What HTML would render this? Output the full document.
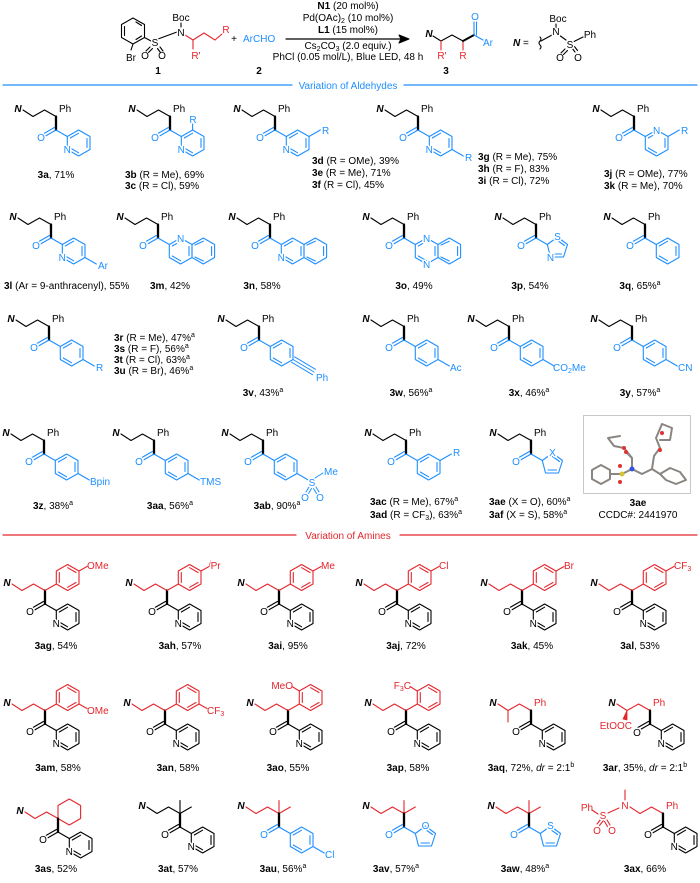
<!DOCTYPE html>
<html><head><meta charset="utf-8"><style>
html,body{margin:0;padding:0;background:#fff}
svg{display:block}
text{font-family:"Liberation Sans",Arial,sans-serif;font-size:10px}
.k{fill:#000}.b{fill:#1e8fff}.r{fill:#e3262c}
.a{paint-order:stroke;stroke:#fff;stroke-width:3px;stroke-linejoin:round}
.n{font-weight:bold;font-style:italic}
.lb{font-size:10px;fill:#000;text-anchor:middle}
.bd{font-weight:bold}
</style></head><body>
<svg width="700" height="883" viewBox="0 0 700 883" xmlns="http://www.w3.org/2000/svg" fill="none" stroke-linecap="round" stroke-linejoin="round">
<defs>
<path id="ch" d="M5,2 L15,8.5 L26.5,2 L38,8.5" stroke-width="1.1"/>
<path id="cb" d="M38,8.5 L38,22" stroke-width="2.3" stroke="#000"/>
<path id="co" d="M38,22 L26.7,28.5 M36.6,19.4 L25.3,25.9 M38,22 L49.3,28.5" stroke-width="1.1"/>
<path id="hx" d="M49.3,28.5 L49.3,41.5 L60.6,48 L72,41.5 L72,28.5 L60.6,22 Z M52.3,40 L60.6,44.8 M69,39.5 L69,30.5 M60.6,25.2 L52.3,30" stroke-width="1.1"/>
<path id="hx2" d="M72,28.5 L72,41.5 L83.3,48 L94.6,41.5 L94.6,28.5 L83.3,22 Z M75,41 L83.3,45 M91.6,39.5 L91.6,30.5 M83.3,25.2 L75,29" stroke-width="1.1"/>
<path id="p5" d="M49.3,28.5 L52.5,41 L65.5,41 L69.5,28.5 L59.5,21 Z M55,38 L63.5,38 M66.5,29.5 L59.5,24.5" stroke-width="1.1"/>
<path id="ar" d="M38,8.5 L49.3,2 M49.3,2 L49.3,-11 L60.6,-17.5 L72,-11 L72,2 L60.6,8.5 Z M52.3,-9.5 L52.3,0.5 M60.6,-14.3 L69,-9.5 M69,0.5 L60.6,5.3" stroke-width="1.1"/>
<path id="pa" d="M72,41.5 L83.3,48" stroke-width="1.1"/>
<path id="mt" d="M72,28.5 L83.3,22" stroke-width="1.1"/>
</defs>

<!-- ===== HEADER ===== -->
<g stroke="#000" stroke-width="1.1">
<path d="M133,18 L144.5,24.5 L144.5,37.5 L133,44 L121.5,37.5 L121.5,24.5 Z M136,22 L141.5,25.5 M141.5,36 L136,39.5 M124.5,35.5 L124.5,26.5"/>
<path d="M133,44 L131,50"/>
<path d="M144.5,37.5 L151,41"/>
<path d="M158,39 L177,32"/>
<path d="M150,47 L146,51 M152.5,48.5 L148.5,52.5 M160,47 L163,51 M157.5,48.5 L160.5,52.5"/>
<path d="M181,27 L181,23"/>
</g>
<g stroke="#e3262c" stroke-width="1.1"><path d="M185,35 L193,40 L204,33 L215,40 L222,34 M193,40 L193,49"/></g>
<text x="131" y="61" class="k a" text-anchor="middle">Br</text>
<text x="155" y="46" class="k a" text-anchor="middle">S</text>
<text x="145" y="59" class="k" text-anchor="middle">O</text>
<text x="162" y="59" class="k" text-anchor="middle">O</text>
<text x="181" y="36" class="k a" text-anchor="middle">N</text>
<text x="181" y="21" class="k" text-anchor="middle">Boc</text>
<text x="226" y="33" class="r" text-anchor="middle">R</text>
<text x="196" y="59" class="r" text-anchor="middle">R'</text>
<text x="158" y="74" class="k bd" text-anchor="middle">1</text>
<text x="234" y="42" class="k" text-anchor="middle">+</text>
<text x="243" y="42" class="b">ArCHO</text>
<text x="259" y="74" class="k bd" text-anchor="middle">2</text>
<path d="M286,39 L402,39" stroke="#000" stroke-width="1.2"/>
<path d="M409,39 L399,35 L401,39 L399,43 Z" fill="#000" stroke="#000" stroke-width="1"/>
<text x="348" y="9" class="k" text-anchor="middle"><tspan class="bd">N1</tspan> (20 mol%)</text>
<text x="348" y="21" class="k" text-anchor="middle">Pd(OAc)<tspan font-size="7" dy="2">2</tspan><tspan dy="-2"> (10 mol%)</tspan></text>
<text x="348" y="33" class="k" text-anchor="middle"><tspan class="bd">L1</tspan> (15 mol%)</text>
<text x="348" y="49" class="k" text-anchor="middle">Cs<tspan font-size="7" dy="2">2</tspan><tspan dy="-2">CO</tspan><tspan font-size="7" dy="2">3</tspan><tspan dy="-2"> (2.0 equiv.)</tspan></text>
<text x="348" y="60" class="k" text-anchor="middle">PhCl (0.05 mol/L), Blue LED, 48 h</text>
<g stroke-width="1.1">
<path d="M433,36 L441,41 L452,35 L463,41" stroke="#000"/>
<path d="M441,41 L441,50 M463,41 L463,50" stroke="#e3262c"/>
<path d="M463,41 L474,35" stroke="#000" stroke-width="2"/>
<path d="M474,35 L474,22 M476.5,35 L476.5,22 M474,35 L483,40" stroke="#1e8fff"/>
</g>
<text x="429" y="37" class="k n" text-anchor="middle">N</text>
<text x="475" y="20" class="b" text-anchor="middle">O</text>
<text x="483" y="46" class="b">Ar</text>
<text x="442" y="59" class="r" text-anchor="middle">R'</text>
<text x="463" y="59" class="r" text-anchor="middle">R</text>
<text x="446" y="74" class="k bd" text-anchor="middle">3</text>
<text x="513" y="46" class="k"><tspan class="n">N</tspan> =</text>
<g stroke="#000" stroke-width="1.1">
<path d="M540,37 q2,2 0,4 q-2,2 0,4 q2,2 0,4"/>
<path d="M541,41 L552,35 M559,35 L566,40 M556,28 L556,24"/>
<path d="M565,49 L561,53 M567.5,50.5 L563.5,54.5 M572,48 L575,52 M574.5,46.5 L577.5,50.5 M573,42 L583,37"/>
</g>
<text x="556" y="35" class="k a" text-anchor="middle">N</text>
<text x="558" y="22" class="k" text-anchor="middle">Boc</text>
<text x="570" y="48" class="k a" text-anchor="middle">S</text>
<text x="590" y="38" class="k" text-anchor="middle">Ph</text>
<text x="560" y="61" class="k" text-anchor="middle">O</text>
<text x="578" y="61" class="k" text-anchor="middle">O</text>

<path d="M3,85 L292,85 M404,85 L697,85" stroke="#1e8fff" stroke-width="1.2"/>
<text x="348" y="89" class="b" text-anchor="middle">Variation of Aldehydes</text>

<!-- ROW 1 -->
<g transform="translate(18,108)">
<use href="#ch" stroke="#000"/><use href="#cb"/><use href="#co" stroke="#1e8fff"/><use href="#hx" stroke="#1e8fff"/>
<text x="0" y="4" class="k n" text-anchor="middle">N</text><text x="41" y="4" class="k">Ph</text>
<text x="23" y="33" class="b a" text-anchor="middle">O</text><text x="49.3" y="45" class="b a" text-anchor="middle">N</text>
</g>
<g transform="translate(132,108)">
<use href="#ch" stroke="#000"/><use href="#cb"/><use href="#co" stroke="#1e8fff"/><use href="#hx" stroke="#1e8fff"/>
<path d="M60.6,22 L60.6,16" stroke="#1e8fff" stroke-width="1.1"/>
<text x="0" y="4" class="k n" text-anchor="middle">N</text><text x="41" y="4" class="k">Ph</text>
<text x="61" y="15" class="b" text-anchor="middle">R</text>
<text x="23" y="33" class="b a" text-anchor="middle">O</text><text x="49.3" y="45" class="b a" text-anchor="middle">N</text>
</g>
<g transform="translate(237,108)">
<use href="#ch" stroke="#000"/><use href="#cb"/><use href="#co" stroke="#1e8fff"/><use href="#hx" stroke="#1e8fff"/><use href="#mt" stroke="#1e8fff"/>
<text x="0" y="4" class="k n" text-anchor="middle">N</text><text x="41" y="4" class="k">Ph</text>
<text x="85" y="26" class="b">R</text>
<text x="23" y="33" class="b a" text-anchor="middle">O</text><text x="49.3" y="45" class="b a" text-anchor="middle">N</text>
</g>
<g transform="translate(380,108)">
<use href="#ch" stroke="#000"/><use href="#cb"/><use href="#co" stroke="#1e8fff"/><use href="#hx" stroke="#1e8fff"/><use href="#pa" stroke="#1e8fff"/>
<text x="0" y="4" class="k n" text-anchor="middle">N</text><text x="41" y="4" class="k">Ph</text>
<text x="85" y="53" class="b">R</text>
<text x="23" y="33" class="b a" text-anchor="middle">O</text><text x="49.3" y="45" class="b a" text-anchor="middle">N</text>
</g>
<g transform="translate(596,108)">
<use href="#ch" stroke="#000"/><use href="#cb"/><use href="#co" stroke="#1e8fff"/><use href="#hx" stroke="#1e8fff"/><use href="#mt" stroke="#1e8fff"/>
<text x="0" y="4" class="k n" text-anchor="middle">N</text><text x="41" y="4" class="k">Ph</text>
<text x="85" y="26" class="b">R</text>
<text x="23" y="33" class="b a" text-anchor="middle">O</text><text x="60.6" y="26" class="b a" text-anchor="middle">N</text>
</g>
<text x="56" y="178" class="lb"><tspan class="bd">3a</tspan>, 71%</text>
<text x="125" y="178" class="k"><tspan class="bd">3b</tspan> (R = Me), 69%</text>
<text x="125" y="189" class="k"><tspan class="bd">3c</tspan> (R = Cl), 59%</text>
<text x="312" y="164" class="k"><tspan class="bd">3d</tspan> (R = OMe), 39%</text>
<text x="312" y="176" class="k"><tspan class="bd">3e</tspan> (R = Me), 71%</text>
<text x="312" y="188" class="k"><tspan class="bd">3f</tspan> (R = Cl), 45%</text>
<text x="478" y="160" class="k"><tspan class="bd">3g</tspan> (R = Me), 75%</text>
<text x="478" y="172" class="k"><tspan class="bd">3h</tspan> (R = F), 83%</text>
<text x="478" y="184" class="k"><tspan class="bd">3i</tspan> (R = Cl), 72%</text>
<text x="604" y="177" class="k"><tspan class="bd">3j</tspan> (R = OMe), 77%</text>
<text x="604" y="189" class="k"><tspan class="bd">3k</tspan> (R = Me), 70%</text>

<!-- ROW 2 -->
<g transform="translate(13,216)">
<use href="#ch" stroke="#000"/><use href="#cb"/><use href="#co" stroke="#1e8fff"/><use href="#hx" stroke="#1e8fff"/><use href="#pa" stroke="#1e8fff"/>
<text x="0" y="4" class="k n" text-anchor="middle">N</text><text x="41" y="4" class="k">Ph</text>
<text x="85" y="53" class="b">Ar</text>
<text x="23" y="33" class="b a" text-anchor="middle">O</text><text x="49.3" y="45" class="b a" text-anchor="middle">N</text>
</g>
<g transform="translate(120,216)">
<use href="#ch" stroke="#000"/><use href="#cb"/><use href="#co" stroke="#1e8fff"/><use href="#hx" stroke="#1e8fff"/><use href="#hx2" stroke="#1e8fff"/>
<text x="0" y="4" class="k n" text-anchor="middle">N</text><text x="41" y="4" class="k">Ph</text>
<text x="23" y="33" class="b a" text-anchor="middle">O</text><text x="60.6" y="26" class="b a" text-anchor="middle">N</text>
</g>
<g transform="translate(232,216)">
<use href="#ch" stroke="#000"/><use href="#cb"/><use href="#co" stroke="#1e8fff"/><use href="#hx" stroke="#1e8fff"/><use href="#hx2" stroke="#1e8fff"/>
<text x="0" y="4" class="k n" text-anchor="middle">N</text><text x="41" y="4" class="k">Ph</text>
<text x="23" y="33" class="b a" text-anchor="middle">O</text><text x="49.3" y="45" class="b a" text-anchor="middle">N</text>
</g>
<g transform="translate(366,216)">
<use href="#ch" stroke="#000"/><use href="#cb"/><use href="#co" stroke="#1e8fff"/><use href="#hx" stroke="#1e8fff"/><use href="#hx2" stroke="#1e8fff"/>
<text x="0" y="4" class="k n" text-anchor="middle">N</text><text x="41" y="4" class="k">Ph</text>
<text x="23" y="33" class="b a" text-anchor="middle">O</text><text x="60.6" y="26" class="b a" text-anchor="middle">N</text><text x="60.6" y="52" class="b a" text-anchor="middle">N</text>
</g>
<g transform="translate(498,216)">
<use href="#ch" stroke="#000"/><use href="#cb"/><use href="#co" stroke="#1e8fff"/><use href="#p5" stroke="#1e8fff"/>
<text x="0" y="4" class="k n" text-anchor="middle">N</text><text x="41" y="4" class="k">Ph</text>
<text x="23" y="33" class="b a" text-anchor="middle">O</text><text x="52.5" y="45" class="b a" text-anchor="middle">N</text><text x="59.5" y="24" class="b a" text-anchor="middle">S</text>
</g>
<g transform="translate(607,216)">
<use href="#ch" stroke="#000"/><use href="#cb"/><use href="#co" stroke="#1e8fff"/><use href="#hx" stroke="#1e8fff"/>
<text x="0" y="4" class="k n" text-anchor="middle">N</text><text x="41" y="4" class="k">Ph</text>
<text x="23" y="33" class="b a" text-anchor="middle">O</text>
</g>
<text x="4" y="289" class="k"><tspan class="bd">3l</tspan> (Ar = 9-anthracenyl), 55%</text>
<text x="170" y="289" class="lb"><tspan class="bd">3m</tspan>, 42%</text>
<text x="262" y="289" class="lb"><tspan class="bd">3n</tspan>, 58%</text>
<text x="414" y="289" class="lb"><tspan class="bd">3o</tspan>, 49%</text>
<text x="530" y="289" class="lb"><tspan class="bd">3p</tspan>, 54%</text>
<text x="640" y="289" class="lb"><tspan class="bd">3q</tspan>, 65%<tspan font-size="7" dy="-4">a</tspan></text>

<!-- ROW 3 -->
<g transform="translate(11,318)">
<use href="#ch" stroke="#000"/><use href="#cb"/><use href="#co" stroke="#1e8fff"/><use href="#hx" stroke="#1e8fff"/><use href="#pa" stroke="#1e8fff"/>
<text x="0" y="4" class="k n" text-anchor="middle">N</text><text x="41" y="4" class="k">Ph</text>
<text x="85" y="53" class="b">R</text><text x="23" y="33" class="b a" text-anchor="middle">O</text>
</g>
<text x="114" y="341" class="k"><tspan class="bd">3r</tspan> (R = Me), 47%<tspan font-size="7" dy="-4">a</tspan></text>
<text x="114" y="352" class="k"><tspan class="bd">3s</tspan> (R = F), 56%<tspan font-size="7" dy="-4">a</tspan></text>
<text x="114" y="363" class="k"><tspan class="bd">3t</tspan> (R = Cl), 63%<tspan font-size="7" dy="-4">a</tspan></text>
<text x="114" y="374" class="k"><tspan class="bd">3u</tspan> (R = Br), 46%<tspan font-size="7" dy="-4">a</tspan></text>
<g transform="translate(221,318)">
<use href="#ch" stroke="#000"/><use href="#cb"/><use href="#co" stroke="#1e8fff"/><use href="#hx" stroke="#1e8fff"/>
<path d="M72,41.5 L93,54 M73.5,38.8 L94.5,51.3 M70.5,44.2 L91.5,56.7" stroke="#1e8fff" stroke-width="1"/>
<text x="0" y="4" class="k n" text-anchor="middle">N</text><text x="41" y="4" class="k">Ph</text>
<text x="95" y="63" class="b">Ph</text><text x="23" y="33" class="b a" text-anchor="middle">O</text>
</g>
<g transform="translate(366,318)">
<use href="#ch" stroke="#000"/><use href="#cb"/><use href="#co" stroke="#1e8fff"/><use href="#hx" stroke="#1e8fff"/><use href="#pa" stroke="#1e8fff"/>
<text x="0" y="4" class="k n" text-anchor="middle">N</text><text x="41" y="4" class="k">Ph</text>
<text x="84" y="53" class="b">Ac</text><text x="23" y="33" class="b a" text-anchor="middle">O</text>
</g>
<g transform="translate(471,318)">
<use href="#ch" stroke="#000"/><use href="#cb"/><use href="#co" stroke="#1e8fff"/><use href="#hx" stroke="#1e8fff"/><use href="#pa" stroke="#1e8fff"/>
<text x="0" y="4" class="k n" text-anchor="middle">N</text><text x="41" y="4" class="k">Ph</text>
<text x="82" y="53" class="b">CO<tspan font-size="7" dy="2">2</tspan><tspan dy="-2">Me</tspan></text><text x="23" y="33" class="b a" text-anchor="middle">O</text>
</g>
<g transform="translate(594,318)">
<use href="#ch" stroke="#000"/><use href="#cb"/><use href="#co" stroke="#1e8fff"/><use href="#hx" stroke="#1e8fff"/><use href="#pa" stroke="#1e8fff"/>
<text x="0" y="4" class="k n" text-anchor="middle">N</text><text x="41" y="4" class="k">Ph</text>
<text x="84" y="53" class="b">CN</text><text x="23" y="33" class="b a" text-anchor="middle">O</text>
</g>
<text x="263" y="396" class="lb"><tspan class="bd">3v</tspan>, 43%<tspan font-size="7" dy="-4">a</tspan></text>
<text x="411" y="396" class="lb"><tspan class="bd">3w</tspan>, 56%<tspan font-size="7" dy="-4">a</tspan></text>
<text x="529" y="396" class="lb"><tspan class="bd">3x</tspan>, 46%<tspan font-size="7" dy="-4">a</tspan></text>
<text x="640" y="396" class="lb"><tspan class="bd">3y</tspan>, 57%<tspan font-size="7" dy="-4">a</tspan></text>

<!-- ROW 4 -->
<g transform="translate(6,432)">
<use href="#ch" stroke="#000"/><use href="#cb"/><use href="#co" stroke="#1e8fff"/><use href="#hx" stroke="#1e8fff"/><use href="#pa" stroke="#1e8fff"/>
<text x="0" y="4" class="k n" text-anchor="middle">N</text><text x="41" y="4" class="k">Ph</text>
<text x="84" y="53" class="b">Bpin</text><text x="23" y="33" class="b a" text-anchor="middle">O</text>
</g>
<g transform="translate(116,432)">
<use href="#ch" stroke="#000"/><use href="#cb"/><use href="#co" stroke="#1e8fff"/><use href="#hx" stroke="#1e8fff"/><use href="#pa" stroke="#1e8fff"/>
<text x="0" y="4" class="k n" text-anchor="middle">N</text><text x="41" y="4" class="k">Ph</text>
<text x="84" y="53" class="b">TMS</text><text x="23" y="33" class="b a" text-anchor="middle">O</text>
</g>
<g transform="translate(225,432)">
<use href="#ch" stroke="#000"/><use href="#cb"/><use href="#co" stroke="#1e8fff"/><use href="#hx" stroke="#1e8fff"/><use href="#pa" stroke="#1e8fff"/>
<path d="M90,46 L98,41 M84,55 L81,60 M86.5,56.5 L83.5,61.5 M91,55 L94,60 M88.5,56.5 L91.5,61.5" stroke="#1e8fff" stroke-width="1"/>
<text x="0" y="4" class="k n" text-anchor="middle">N</text><text x="41" y="4" class="k">Ph</text>
<text x="87" y="54" class="b a" text-anchor="middle">S</text><text x="99" y="43" class="b">Me</text>
<text x="80" y="69" class="b" text-anchor="middle">O</text><text x="95" y="69" class="b" text-anchor="middle">O</text>
<text x="23" y="33" class="b a" text-anchor="middle">O</text>
</g>
<g transform="translate(368,432)">
<use href="#ch" stroke="#000"/><use href="#cb"/><use href="#co" stroke="#1e8fff"/><use href="#hx" stroke="#1e8fff"/><use href="#mt" stroke="#1e8fff"/>
<text x="0" y="4" class="k n" text-anchor="middle">N</text><text x="41" y="4" class="k">Ph</text>
<text x="85" y="24" class="b">R</text><text x="23" y="33" class="b a" text-anchor="middle">O</text>
</g>
<g transform="translate(493,432)">
<use href="#ch" stroke="#000"/><use href="#cb"/><use href="#co" stroke="#1e8fff"/><use href="#p5" stroke="#1e8fff"/>
<text x="0" y="4" class="k n" text-anchor="middle">N</text><text x="41" y="4" class="k">Ph</text>
<text x="23" y="33" class="b a" text-anchor="middle">O</text><text x="59.5" y="24" class="b a" text-anchor="middle">X</text>
</g>
<text x="53" y="509" class="lb"><tspan class="bd">3z</tspan>, 38%<tspan font-size="7" dy="-4">a</tspan></text>
<text x="170" y="509" class="lb"><tspan class="bd">3aa</tspan>, 56%<tspan font-size="7" dy="-4">a</tspan></text>
<text x="277" y="509" class="lb"><tspan class="bd">3ab</tspan>, 90%<tspan font-size="7" dy="-4">a</tspan></text>
<text x="370" y="505" class="k"><tspan class="bd">3ac</tspan> (R = Me), 67%<tspan font-size="7" dy="-4">a</tspan></text>
<text x="370" y="518" class="k"><tspan class="bd">3ad</tspan> (R = CF<tspan font-size="7" dy="2">3</tspan><tspan dy="-2">), 63%</tspan><tspan font-size="7" dy="-4">a</tspan></text>
<text x="489" y="505" class="k"><tspan class="bd">3ae</tspan> (X = O), 60%<tspan font-size="7" dy="-4">a</tspan></text>
<text x="489" y="518" class="k"><tspan class="bd">3af</tspan> (X = S), 58%<tspan font-size="7" dy="-4">a</tspan></text>
<rect x="583.5" y="415.5" width="107" height="78" fill="#fff" stroke="#c8c8c8"/>
<g stroke="#8a8580" stroke-width="2">
<path d="M592,470 L601,465 L610,470 L610,479 L601,484 L592,479 Z"/>
<path d="M610,474 L622,474 L632,469 L642,474 L652,469 L660,474 L670,468 L680,472 L686,480 L676,484 L666,480 L660,474"/>
<path d="M632,469 L632,458 L626,452 M632,458 L624,448 L614,446 L608,438 L620,436"/>
<path d="M652,469 L654,456 L660,448 L656,438 L662,424 L672,428 L670,440 L660,440"/>
</g>
<g>
<circle cx="622" cy="474" r="2.5" fill="#d9c13a"/><circle cx="632" cy="469" r="2.5" fill="#3355dd"/>
<circle cx="626" cy="452" r="2" fill="#d33"/><circle cx="624" cy="448" r="2" fill="#d33"/>
<circle cx="620" cy="482" r="2" fill="#d33"/><circle cx="620" cy="466" r="2" fill="#d33"/>
<circle cx="660" cy="450" r="2" fill="#d33"/><circle cx="662" cy="433" r="2" fill="#d33"/>
</g>
<text x="638" y="506" class="lb bd">3ae</text>
<text x="638" y="518" class="lb">CCDC#: 2441970</text>

<path d="M3,535 L296,535 M400,535 L697,535" stroke="#e3262c" stroke-width="1.2"/>
<text x="348" y="539" class="r" text-anchor="middle">Variation of Amines</text>

<!-- ROW 5 -->
<g transform="translate(7,582)">
<use href="#ch" stroke="#e3262c"/><use href="#cb"/><use href="#co" stroke="#000"/><use href="#hx" stroke="#000"/><use href="#ar" stroke="#e3262c"/>
<path d="M72,-11 L80,-15.5" stroke="#e3262c" stroke-width="1.1"/>
<text x="0" y="4" class="k n" text-anchor="middle">N</text><text x="80" y="-13" class="r">OMe</text>
<text x="23" y="33" class="k a" text-anchor="middle">O</text><text x="49.3" y="45" class="k a" text-anchor="middle">N</text>
</g>
<g transform="translate(129,582)">
<use href="#ch" stroke="#e3262c"/><use href="#cb"/><use href="#co" stroke="#000"/><use href="#hx" stroke="#000"/><use href="#ar" stroke="#e3262c"/>
<path d="M72,-11 L80,-15.5" stroke="#e3262c" stroke-width="1.1"/>
<text x="0" y="4" class="k n" text-anchor="middle">N</text><text x="80" y="-13" class="r"><tspan font-size="7" dy="-3" font-style="italic">i</tspan><tspan dy="3">Pr</tspan></text>
<text x="23" y="33" class="k a" text-anchor="middle">O</text><text x="49.3" y="45" class="k a" text-anchor="middle">N</text>
</g>
<g transform="translate(241,582)">
<use href="#ch" stroke="#e3262c"/><use href="#cb"/><use href="#co" stroke="#000"/><use href="#hx" stroke="#000"/><use href="#ar" stroke="#e3262c"/>
<path d="M72,-11 L80,-15.5" stroke="#e3262c" stroke-width="1.1"/>
<text x="0" y="4" class="k n" text-anchor="middle">N</text><text x="80" y="-13" class="r">Me</text>
<text x="23" y="33" class="k a" text-anchor="middle">O</text><text x="49.3" y="45" class="k a" text-anchor="middle">N</text>
</g>
<g transform="translate(359,582)">
<use href="#ch" stroke="#e3262c"/><use href="#cb"/><use href="#co" stroke="#000"/><use href="#hx" stroke="#000"/><use href="#ar" stroke="#e3262c"/>
<path d="M72,-11 L80,-15.5" stroke="#e3262c" stroke-width="1.1"/>
<text x="0" y="4" class="k n" text-anchor="middle">N</text><text x="80" y="-13" class="r">Cl</text>
<text x="23" y="33" class="k a" text-anchor="middle">O</text><text x="49.3" y="45" class="k a" text-anchor="middle">N</text>
</g>
<g transform="translate(484,582)">
<use href="#ch" stroke="#e3262c"/><use href="#cb"/><use href="#co" stroke="#000"/><use href="#hx" stroke="#000"/><use href="#ar" stroke="#e3262c"/>
<path d="M72,-11 L80,-15.5" stroke="#e3262c" stroke-width="1.1"/>
<text x="0" y="4" class="k n" text-anchor="middle">N</text><text x="80" y="-13" class="r">Br</text>
<text x="23" y="33" class="k a" text-anchor="middle">O</text><text x="49.3" y="45" class="k a" text-anchor="middle">N</text>
</g>
<g transform="translate(594,582)">
<use href="#ch" stroke="#e3262c"/><use href="#cb"/><use href="#co" stroke="#000"/><use href="#hx" stroke="#000"/><use href="#ar" stroke="#e3262c"/>
<path d="M72,-11 L80,-15.5" stroke="#e3262c" stroke-width="1.1"/>
<text x="0" y="4" class="k n" text-anchor="middle">N</text><text x="80" y="-13" class="r">CF<tspan font-size="7" dy="2">3</tspan></text>
<text x="23" y="33" class="k a" text-anchor="middle">O</text><text x="49.3" y="45" class="k a" text-anchor="middle">N</text>
</g>
<text x="56" y="649" class="lb"><tspan class="bd">3ag</tspan>, 54%</text>
<text x="180" y="649" class="lb"><tspan class="bd">3ah</tspan>, 57%</text>
<text x="288" y="649" class="lb"><tspan class="bd">3ai</tspan>, 95%</text>
<text x="406" y="649" class="lb"><tspan class="bd">3aj</tspan>, 72%</text>
<text x="532" y="649" class="lb"><tspan class="bd">3ak</tspan>, 45%</text>
<text x="640" y="649" class="lb"><tspan class="bd">3al</tspan>, 53%</text>

<!-- ROW 6 -->
<g transform="translate(7,702)">
<use href="#ch" stroke="#e3262c"/><use href="#cb"/><use href="#co" stroke="#000"/><use href="#hx" stroke="#000"/><use href="#ar" stroke="#e3262c"/>
<path d="M72,2 L80,6.5" stroke="#e3262c" stroke-width="1.1"/>
<text x="0" y="4" class="k n" text-anchor="middle">N</text><text x="80" y="12" class="r">OMe</text>
<text x="23" y="33" class="k a" text-anchor="middle">O</text><text x="49.3" y="45" class="k a" text-anchor="middle">N</text>
</g>
<g transform="translate(127,702)">
<use href="#ch" stroke="#e3262c"/><use href="#cb"/><use href="#co" stroke="#000"/><use href="#hx" stroke="#000"/><use href="#ar" stroke="#e3262c"/>
<path d="M72,2 L80,6.5" stroke="#e3262c" stroke-width="1.1"/>
<text x="0" y="4" class="k n" text-anchor="middle">N</text><text x="80" y="12" class="r">CF<tspan font-size="7" dy="2">3</tspan></text>
<text x="23" y="33" class="k a" text-anchor="middle">O</text><text x="49.3" y="45" class="k a" text-anchor="middle">N</text>
</g>
<g transform="translate(250,702)">
<use href="#ch" stroke="#e3262c"/><use href="#cb"/><use href="#co" stroke="#000"/><use href="#hx" stroke="#000"/><use href="#ar" stroke="#e3262c"/>
<path d="M49.3,-11 L42,-15.5" stroke="#e3262c" stroke-width="1.1"/>
<text x="0" y="4" class="k n" text-anchor="middle">N</text><text x="43" y="-13" class="r" text-anchor="end">MeO</text>
<text x="23" y="33" class="k a" text-anchor="middle">O</text><text x="49.3" y="45" class="k a" text-anchor="middle">N</text>
</g>
<g transform="translate(368,702)">
<use href="#ch" stroke="#e3262c"/><use href="#cb"/><use href="#co" stroke="#000"/><use href="#hx" stroke="#000"/><use href="#ar" stroke="#e3262c"/>
<path d="M49.3,-11 L42,-15.5" stroke="#e3262c" stroke-width="1.1"/>
<text x="0" y="4" class="k n" text-anchor="middle">N</text><text x="43" y="-13" class="r" text-anchor="end">F<tspan font-size="7" dy="2">3</tspan><tspan dy="-2">C</tspan></text>
<text x="23" y="33" class="k a" text-anchor="middle">O</text><text x="49.3" y="45" class="k a" text-anchor="middle">N</text>
</g>
<g transform="translate(493,702)">
<path d="M5,2 L15,8.5 L26.5,2 L38,8.5 M15,8.5 L15,20" stroke="#e3262c" stroke-width="1.1"/>
<use href="#cb"/><use href="#co" stroke="#000"/><use href="#hx" stroke="#000"/>
<text x="0" y="4" class="k n" text-anchor="middle">N</text><text x="41" y="4" class="r">Ph</text>
<text x="23" y="33" class="k a" text-anchor="middle">O</text><text x="49.3" y="45" class="k a" text-anchor="middle">N</text>
</g>
<g transform="translate(612,702)">
<path d="M5,2 L15,8.5 L26.5,2 L38,8.5" stroke="#e3262c" stroke-width="1.1"/>
<path d="M15,8.5 L11,17 L15,18 Z" fill="#e3262c" stroke="#e3262c" stroke-width="0.8"/>
<use href="#cb"/><use href="#co" stroke="#000"/><use href="#hx" stroke="#000"/>
<text x="0" y="4" class="k n" text-anchor="middle">N</text><text x="41" y="4" class="r">Ph</text>
<text x="20" y="27" class="r a" text-anchor="end">EtOOC</text>
<text x="25" y="34" class="k a" text-anchor="middle">O</text><text x="49.3" y="45" class="k a" text-anchor="middle">N</text>
</g>
<text x="58" y="771" class="lb"><tspan class="bd">3am</tspan>, 58%</text>
<text x="178" y="771" class="lb"><tspan class="bd">3an</tspan>, 58%</text>
<text x="288" y="771" class="lb"><tspan class="bd">3ao</tspan>, 55%</text>
<text x="408" y="771" class="lb"><tspan class="bd">3ap</tspan>, 58%</text>
<text x="531" y="771" class="lb"><tspan class="bd">3aq</tspan>, 72%, <tspan font-style="italic">dr</tspan> = 2:1<tspan font-size="7" dy="-4">b</tspan></text>
<text x="645" y="771" class="lb"><tspan class="bd">3ar</tspan>, 35%, <tspan font-style="italic">dr</tspan> = 2:1<tspan font-size="7" dy="-4">b</tspan></text>

<!-- ROW 7 -->
<g transform="translate(20,810)">
<path d="M5,2 L15,8.5 L26.5,2 L38,8.5 L38,-4.5 L49.3,-11 L60.6,-4.5 L60.6,8.5 L49.3,15 L38,8.5" stroke="#e3262c" stroke-width="1.1"/>
<use href="#cb"/><use href="#co" stroke="#000"/><use href="#hx" stroke="#000"/>
<text x="0" y="4" class="k n" text-anchor="middle">N</text>
<text x="23" y="33" class="k a" text-anchor="middle">O</text><text x="49.3" y="45" class="k a" text-anchor="middle">N</text>
</g>
<g transform="translate(142,805)">
<path d="M5,2 L15,8.5 L26.5,2 L38,8.5 L38,-4.5 M38,8.5 L49.3,2" stroke="#000" stroke-width="1.1"/>
<use href="#cb"/><use href="#co" stroke="#000"/><use href="#hx" stroke="#000"/>
<text x="0" y="4" class="k n" text-anchor="middle">N</text>
<text x="23" y="33" class="k a" text-anchor="middle">O</text><text x="49.3" y="45" class="k a" text-anchor="middle">N</text>
</g>
<g transform="translate(241,805)">
<path d="M5,2 L15,8.5 L26.5,2 L38,8.5 L38,-4.5 M38,8.5 L49.3,2" stroke="#e3262c" stroke-width="1.1"/>
<use href="#cb"/><use href="#co" stroke="#1e8fff"/><use href="#hx" stroke="#1e8fff"/><use href="#pa" stroke="#1e8fff"/>
<text x="0" y="4" class="k n" text-anchor="middle">N</text><text x="84" y="53" class="b">Cl</text>
<text x="23" y="33" class="b a" text-anchor="middle">O</text>
</g>
<g transform="translate(366,805)">
<path d="M5,2 L15,8.5 L26.5,2 L38,8.5 L38,-4.5 M38,8.5 L49.3,2" stroke="#e3262c" stroke-width="1.1"/>
<use href="#cb"/><use href="#co" stroke="#1e8fff"/><use href="#p5" stroke="#1e8fff"/>
<text x="0" y="4" class="k n" text-anchor="middle">N</text>
<text x="23" y="33" class="b a" text-anchor="middle">O</text><text x="59.5" y="24" class="b a" text-anchor="middle">O</text>
</g>
<g transform="translate(491,805)">
<path d="M5,2 L15,8.5 L26.5,2 L38,8.5 L38,-4.5 M38,8.5 L49.3,2" stroke="#e3262c" stroke-width="1.1"/>
<use href="#cb"/><use href="#co" stroke="#1e8fff"/><use href="#p5" stroke="#1e8fff"/>
<text x="0" y="4" class="k n" text-anchor="middle">N</text>
<text x="23" y="33" class="b a" text-anchor="middle">O</text><text x="59.5" y="24" class="b a" text-anchor="middle">S</text>
</g>
<g transform="translate(625,805)">
<path d="M0,-5 L0,-15 M-6,3 L-17,8" stroke="#e3262c" stroke-width="1.1"/>
<path d="M-24,14 L-28,19 M-21.5,15.5 L-25.5,20.5 M-18,15 L-15,20 M-20.5,16.5 L-17.5,21.5 M-27,9 L-33,5" stroke="#e3262c" stroke-width="1.1"/>
<use href="#ch" stroke="#e3262c"/><use href="#cb"/><use href="#co" stroke="#000"/><use href="#hx" stroke="#000"/>
<text x="0" y="4" class="r a" text-anchor="middle">N</text>
<text x="-22" y="14" class="r a" text-anchor="middle">S</text>
<text x="-38" y="6" class="r" text-anchor="middle">Ph</text>
<text x="-28" y="29" class="r" text-anchor="middle">O</text><text x="-13" y="29" class="r" text-anchor="middle">O</text>
<text x="41" y="4" class="r">Ph</text>
<text x="23" y="33" class="k a" text-anchor="middle">O</text><text x="49.3" y="45" class="k a" text-anchor="middle">N</text>
</g>
<text x="56" y="872" class="lb"><tspan class="bd">3as</tspan>, 52%</text>
<text x="178" y="872" class="lb"><tspan class="bd">3at</tspan>, 57%</text>
<text x="283" y="872" class="lb"><tspan class="bd">3au</tspan>, 56%<tspan font-size="7" dy="-4">a</tspan></text>
<text x="396" y="872" class="lb"><tspan class="bd">3av</tspan>, 57%<tspan font-size="7" dy="-4">a</tspan></text>
<text x="525" y="872" class="lb"><tspan class="bd">3aw</tspan>, 48%<tspan font-size="7" dy="-4">a</tspan></text>
<text x="645" y="872" class="lb"><tspan class="bd">3ax</tspan>, 66%</text>
</svg>
</body></html>
